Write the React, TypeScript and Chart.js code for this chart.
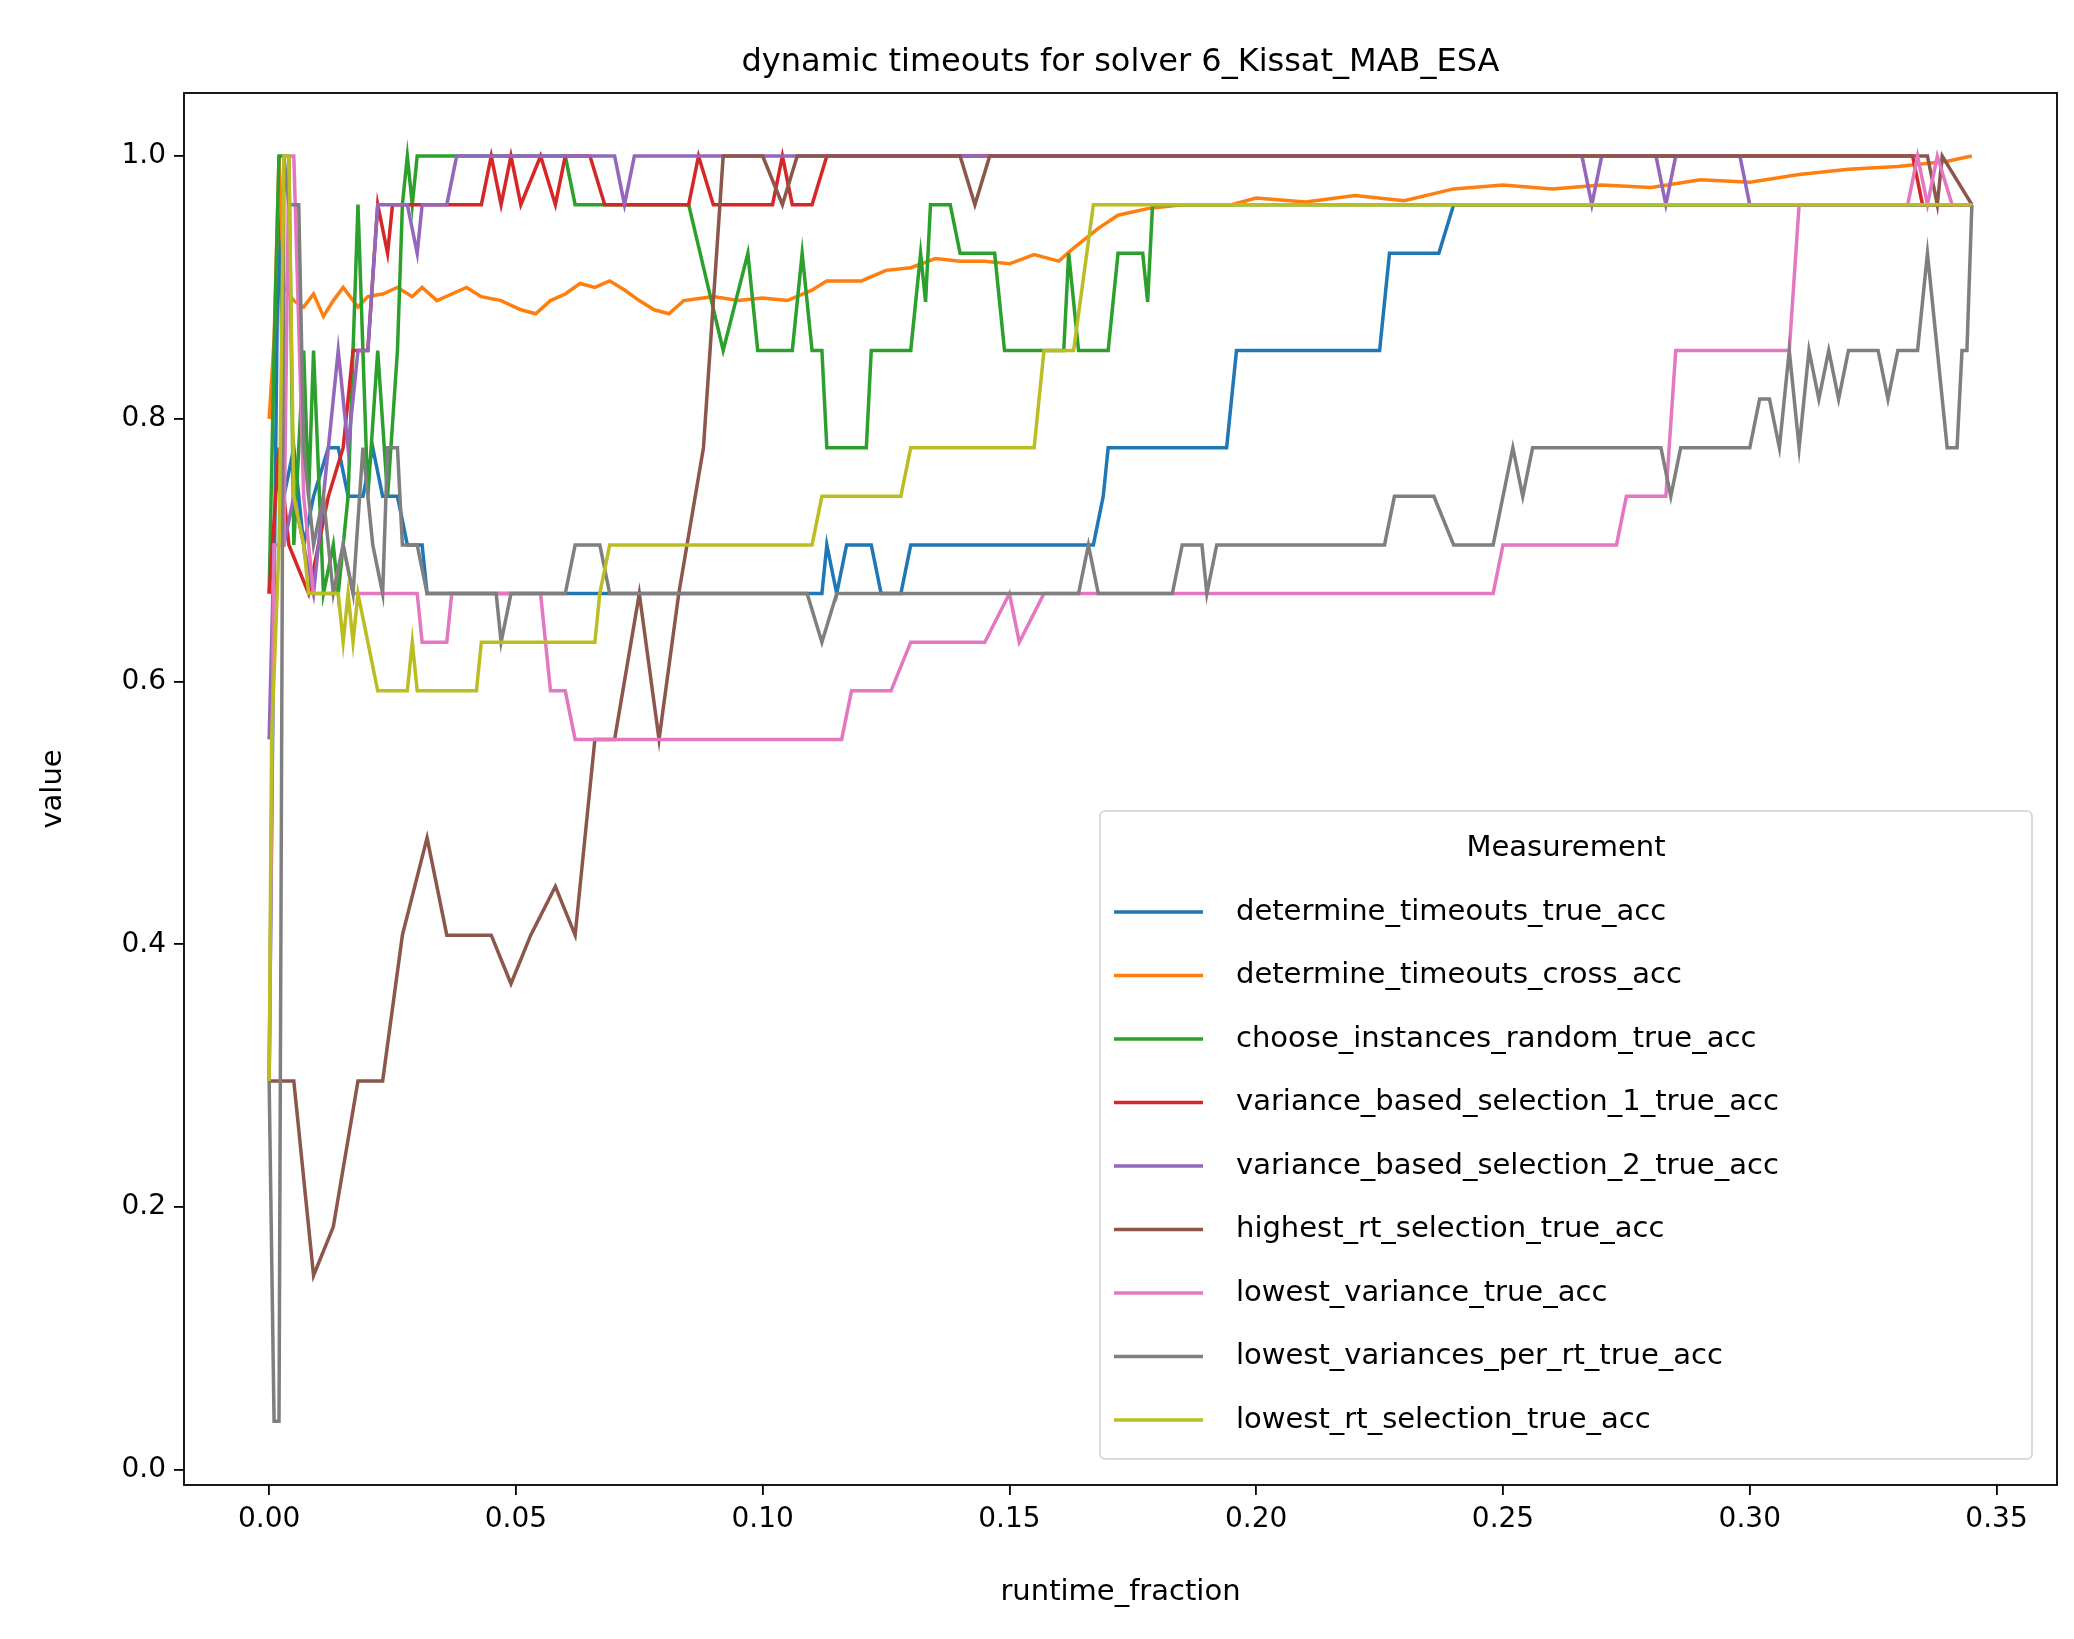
import { useEffect, useRef } from 'react';
import { Chart, registerables } from 'chart.js';

Chart.register(...registerables);

const seriesNames = [
  'determine_timeouts_true_acc',
  'determine_timeouts_cross_acc',
  'choose_instances_random_true_acc',
  'variance_based_selection_1_true_acc',
  'variance_based_selection_2_true_acc',
  'highest_rt_selection_true_acc',
  'lowest_variance_true_acc',
  'lowest_variances_per_rt_true_acc',
  'lowest_rt_selection_true_acc',
];
const seriesColors = ['#1f77b4', '#ff7f0e', '#2ca02c', '#d62728', '#9467bd', '#8c564b', '#e377c2', '#7f7f7f', '#bcbd22'];

const xTicks = [0, 0.05, 0.1, 0.15, 0.2, 0.25, 0.3, 0.35];
const yTicks = [0, 0.2, 0.4, 0.6, 0.8, 1.0];

const blueData = [
  [0, 0.296], [0.001, 0.667], [0.002, 1.0], [0.003, 0.741], [0.005, 0.778], [0.007, 0.704], [0.009, 0.741], [0.012, 0.778],
  [0.014, 0.778], [0.016, 0.741], [0.019, 0.741], [0.021, 0.778], [0.023, 0.741], [0.026, 0.741], [0.028, 0.704], [0.031, 0.704],
  [0.032, 0.667], [0.112, 0.667], [0.113, 0.704], [0.115, 0.667], [0.117, 0.704], [0.122, 0.704], [0.124, 0.667], [0.128, 0.667],
  [0.13, 0.704], [0.167, 0.704], [0.169, 0.741], [0.17, 0.778], [0.194, 0.778], [0.196, 0.852], [0.225, 0.852], [0.227, 0.926],
  [0.237, 0.926], [0.24, 0.963], [0.345, 0.963],
];
const orangeData = [
  [0, 0.8], [0.001, 0.86], [0.002, 1.0], [0.003, 0.9], [0.005, 0.89], [0.007, 0.885], [0.009, 0.895], [0.011, 0.878],
  [0.013, 0.89], [0.015, 0.9], [0.018, 0.885], [0.02, 0.893], [0.023, 0.895], [0.026, 0.9], [0.029, 0.893], [0.031, 0.9],
  [0.034, 0.89], [0.037, 0.895], [0.04, 0.9], [0.043, 0.893], [0.047, 0.89], [0.051, 0.883], [0.054, 0.88], [0.057, 0.89],
  [0.06, 0.895], [0.063, 0.903], [0.066, 0.9], [0.069, 0.905], [0.072, 0.898], [0.075, 0.89], [0.078, 0.883], [0.081, 0.88],
  [0.084, 0.89], [0.09, 0.893], [0.095, 0.89], [0.1, 0.892], [0.105, 0.89], [0.11, 0.898], [0.113, 0.905], [0.12, 0.905],
  [0.125, 0.913], [0.13, 0.915], [0.135, 0.922], [0.14, 0.92], [0.145, 0.92], [0.15, 0.918], [0.155, 0.925], [0.16, 0.92],
  [0.163, 0.93], [0.168, 0.945], [0.172, 0.955], [0.178, 0.96], [0.185, 0.963], [0.195, 0.963], [0.2, 0.968], [0.21, 0.965],
  [0.22, 0.97], [0.23, 0.966], [0.24, 0.975], [0.25, 0.978], [0.26, 0.975], [0.27, 0.978], [0.28, 0.976], [0.29, 0.982],
  [0.3, 0.98], [0.31, 0.986], [0.32, 0.99], [0.33, 0.992], [0.34, 0.996], [0.345, 1.0],
];
const greenData = [
  [0, 0.667], [0.001, 0.852], [0.002, 1.0], [0.004, 1.0], [0.005, 0.704], [0.007, 0.852], [0.008, 0.741], [0.009, 0.852],
  [0.011, 0.667], [0.013, 0.704], [0.014, 0.667], [0.016, 0.741], [0.018, 0.963], [0.02, 0.741], [0.022, 0.852], [0.024, 0.741],
  [0.026, 0.852], [0.027, 0.963], [0.028, 1.0], [0.029, 0.963], [0.03, 1.0], [0.06, 1.0], [0.062, 0.963], [0.085, 0.963],
  [0.092, 0.852], [0.097, 0.926], [0.099, 0.852], [0.106, 0.852], [0.108, 0.926], [0.11, 0.852], [0.112, 0.852], [0.113, 0.778],
  [0.121, 0.778], [0.122, 0.852], [0.13, 0.852], [0.132, 0.926], [0.133, 0.889], [0.134, 0.963], [0.138, 0.963], [0.14, 0.926],
  [0.147, 0.926], [0.149, 0.852], [0.161, 0.852], [0.162, 0.926], [0.164, 0.852], [0.17, 0.852], [0.172, 0.926], [0.177, 0.926],
  [0.178, 0.889], [0.179, 0.963], [0.345, 0.963],
];
const redData = [
  [0, 0.667], [0.002, 0.778], [0.004, 0.704], [0.008, 0.667], [0.012, 0.741], [0.015, 0.778], [0.017, 0.852], [0.02, 0.852],
  [0.022, 0.963], [0.024, 0.926], [0.025, 0.963], [0.043, 0.963], [0.045, 1.0], [0.047, 0.963], [0.049, 1.0], [0.051, 0.963],
  [0.055, 1.0], [0.058, 0.963], [0.06, 1.0], [0.065, 1.0], [0.068, 0.963], [0.085, 0.963], [0.087, 1.0], [0.09, 0.963],
  [0.102, 0.963], [0.104, 1.0], [0.106, 0.963], [0.11, 0.963], [0.113, 1.0], [0.333, 1.0], [0.335, 0.963], [0.345, 0.963],
];
const purpleData = [
  [0, 0.556], [0.001, 0.704], [0.003, 0.704], [0.005, 0.741], [0.009, 0.667], [0.012, 0.778], [0.014, 0.852], [0.016, 0.778],
  [0.018, 0.852], [0.02, 0.852], [0.022, 0.963], [0.028, 0.963], [0.03, 0.926], [0.031, 0.963], [0.036, 0.963], [0.038, 1.0],
  [0.07, 1.0], [0.072, 0.963], [0.074, 1.0], [0.266, 1.0], [0.268, 0.963], [0.27, 1.0], [0.281, 1.0], [0.283, 0.963],
  [0.285, 1.0], [0.298, 1.0], [0.3, 0.963], [0.345, 0.963],
];
const brownData = [
  [0, 0.296], [0.005, 0.296], [0.009, 0.148], [0.013, 0.185], [0.018, 0.296], [0.023, 0.296], [0.027, 0.407], [0.032, 0.481],
  [0.036, 0.407], [0.045, 0.407], [0.049, 0.37], [0.053, 0.407], [0.058, 0.444], [0.062, 0.407], [0.066, 0.556], [0.07, 0.556],
  [0.075, 0.667], [0.079, 0.556], [0.083, 0.667], [0.088, 0.778], [0.092, 1.0], [0.1, 1.0], [0.104, 0.963], [0.107, 1.0],
  [0.14, 1.0], [0.143, 0.963], [0.146, 1.0], [0.336, 1.0], [0.338, 0.963], [0.339, 1.0], [0.345, 0.963],
];
const pinkData = [
  [0, 0.296], [0.001, 0.704], [0.003, 0.704], [0.004, 1.0], [0.005, 1.0], [0.007, 0.741], [0.009, 0.667], [0.013, 0.667],
  [0.015, 0.704], [0.017, 0.667], [0.03, 0.667], [0.031, 0.63], [0.036, 0.63], [0.037, 0.667], [0.055, 0.667], [0.057, 0.593],
  [0.06, 0.593], [0.062, 0.556], [0.116, 0.556], [0.118, 0.593], [0.126, 0.593], [0.13, 0.63], [0.145, 0.63], [0.15, 0.667],
  [0.152, 0.63], [0.157, 0.667], [0.248, 0.667], [0.25, 0.704], [0.273, 0.704], [0.275, 0.741], [0.283, 0.741], [0.285, 0.852],
  [0.308, 0.852], [0.31, 0.963], [0.332, 0.963], [0.334, 1.0], [0.336, 0.963], [0.338, 1.0], [0.341, 0.963], [0.345, 0.963],
];
const grayData = [
  [0, 0.296], [0.001, 0.037], [0.002, 0.037], [0.003, 1.0], [0.004, 0.963], [0.006, 0.963], [0.007, 0.778], [0.009, 0.704],
  [0.011, 0.741], [0.013, 0.667], [0.015, 0.704], [0.017, 0.667], [0.019, 0.778], [0.021, 0.704], [0.023, 0.667], [0.024, 0.778],
  [0.026, 0.778], [0.027, 0.704], [0.03, 0.704], [0.032, 0.667], [0.046, 0.667], [0.047, 0.63], [0.049, 0.667], [0.06, 0.667],
  [0.062, 0.704], [0.067, 0.704], [0.069, 0.667], [0.109, 0.667], [0.112, 0.63], [0.115, 0.667], [0.164, 0.667], [0.166, 0.704],
  [0.168, 0.667], [0.183, 0.667], [0.185, 0.704], [0.189, 0.704], [0.19, 0.667], [0.192, 0.704], [0.226, 0.704], [0.228, 0.741],
  [0.236, 0.741], [0.24, 0.704], [0.248, 0.704], [0.25, 0.741], [0.252, 0.778], [0.254, 0.741], [0.256, 0.778], [0.282, 0.778],
  [0.284, 0.741], [0.286, 0.778], [0.3, 0.778], [0.302, 0.815], [0.304, 0.815], [0.306, 0.778], [0.308, 0.852], [0.31, 0.778],
  [0.312, 0.852], [0.314, 0.815], [0.316, 0.852], [0.318, 0.815], [0.32, 0.852], [0.326, 0.852], [0.328, 0.815], [0.33, 0.852],
  [0.334, 0.852], [0.336, 0.926], [0.338, 0.852], [0.34, 0.778], [0.342, 0.778], [0.343, 0.852], [0.344, 0.852], [0.345, 0.963],
];
const oliveData = [
  [0, 0.296], [0.0005, 0.556], [0.002, 0.704], [0.003, 1.0], [0.004, 1.0], [0.005, 0.741], [0.007, 0.704], [0.008, 0.667],
  [0.014, 0.667], [0.015, 0.63], [0.016, 0.667], [0.017, 0.63], [0.018, 0.667], [0.02, 0.63], [0.022, 0.593], [0.028, 0.593],
  [0.029, 0.63], [0.03, 0.593], [0.042, 0.593], [0.043, 0.63], [0.066, 0.63], [0.067, 0.667], [0.069, 0.704], [0.11, 0.704],
  [0.112, 0.741], [0.128, 0.741], [0.13, 0.778], [0.155, 0.778], [0.157, 0.852], [0.163, 0.852], [0.167, 0.963], [0.345, 0.963],
];
const allData = [blueData, orangeData, greenData, redData, purpleData, brownData, pinkData, grayData, oliveData];

const FONT = '"DejaVu Sans", sans-serif';

const framePlugin = {
  id: 'frame',
  afterDraw(chart: any) {
    const { ctx, chartArea: a } = chart;
    ctx.save();
    ctx.strokeStyle = '#000';
    ctx.lineWidth = 1.8;
    ctx.strokeRect(a.left, a.top, a.right - a.left, a.bottom - a.top);
    ctx.fillStyle = '#000';
    ctx.font = `32px ${FONT}`;
    ctx.textAlign = 'center';
    ctx.textBaseline = 'bottom';
    ctx.fillText('dynamic timeouts for solver 6_Kissat_MAB_ESA', (a.left + a.right) / 2, a.top - 14);

    // axis titles
    ctx.font = `29px ${FONT}`;
    ctx.textBaseline = 'middle';
    ctx.fillText('runtime_fraction', (a.left + a.right) / 2, 1592);
    ctx.save();
    ctx.translate(53, (a.top + a.bottom) / 2);
    ctx.rotate(-Math.PI / 2);
    ctx.fillText('value', 0, 0);
    ctx.restore();

    // legend box
    const lx = 1100, ly = 811, lw = 932, lh = 648;
    ctx.fillStyle = 'rgba(255,255,255,0.8)';
    ctx.strokeStyle = '#d0d0d0';
    ctx.lineWidth = 1.5;
    ctx.beginPath();
    ctx.roundRect(lx, ly, lw, lh, 5);
    ctx.fill();
    ctx.stroke();
    ctx.fillStyle = '#000';
    ctx.font = `29px ${FONT}`;
    ctx.textAlign = 'center';
    ctx.fillText('Measurement', lx + lw / 2, ly + 37);
    ctx.textAlign = 'left';
    seriesNames.forEach((name, i) => {
      const y = ly + 101 + i * 63.5;
      ctx.strokeStyle = seriesColors[i];
      ctx.lineWidth = 3.5;
      ctx.beginPath();
      ctx.moveTo(lx + 14, y);
      ctx.lineTo(lx + 103, y);
      ctx.stroke();
      ctx.fillStyle = '#000';
      ctx.fillText(name, lx + 136, y);
    });
    ctx.restore();
  },
};

export default function App() {
  const canvasRef = useRef<HTMLCanvasElement>(null);

  useEffect(() => {
    document.body.style.margin = '0';
    if (!canvasRef.current) return;
    const chart = new Chart(canvasRef.current, {
      type: 'line',
      data: {
        datasets: seriesNames.map((name, i) => ({
          label: name,
          data: allData[i].map(([x, y]) => ({ x, y })),
          borderColor: seriesColors[i],
          backgroundColor: seriesColors[i],
          borderWidth: 3.5,
          pointRadius: 0,
          fill: false,
          tension: 0,
          order: 9 - i,
        })),
      },
      options: {
        animation: false,
        responsive: false,
        devicePixelRatio: 1,
        parsing: false,
        layout: { padding: { top: 93, right: 17, left: 0, bottom: 0 } },
        plugins: { legend: { display: false }, title: { display: false }, tooltip: { enabled: false } },
        scales: {
          x: {
            type: 'linear',
            min: -0.01725,
            max: 0.36225,
            afterBuildTicks: (s: any) => { s.ticks = xTicks.map((v) => ({ value: v })); },
            afterFit: (s: any) => { s.height = 154; },
            grid: { drawOnChartArea: false, drawTicks: true, tickLength: 10, color: '#000', lineWidth: 1.8 },
            border: { display: false },
            ticks: { color: '#000', font: { family: FONT, size: 28 }, padding: 8, maxRotation: 0, callback: (v: any) => Number(v).toFixed(2) },
          },
          y: {
            type: 'linear',
            min: -0.0115,
            max: 1.048,
            afterBuildTicks: (s: any) => { s.ticks = yTicks.map((v) => ({ value: v })); },
            afterFit: (s: any) => { s.width = 184; },
            grid: { drawOnChartArea: false, drawTicks: true, tickLength: 10, color: '#000', lineWidth: 1.8 },
            border: { display: false },
            ticks: { color: '#000', font: { family: FONT, size: 28 }, padding: 8, callback: (v: any) => Number(v).toFixed(1) },
          },
        },
      },
      plugins: [framePlugin],
    } as any);
    return () => chart.destroy();
  }, []);

  return <canvas ref={canvasRef} width={2074} height={1639} style={{ display: 'block' }} />;
}
